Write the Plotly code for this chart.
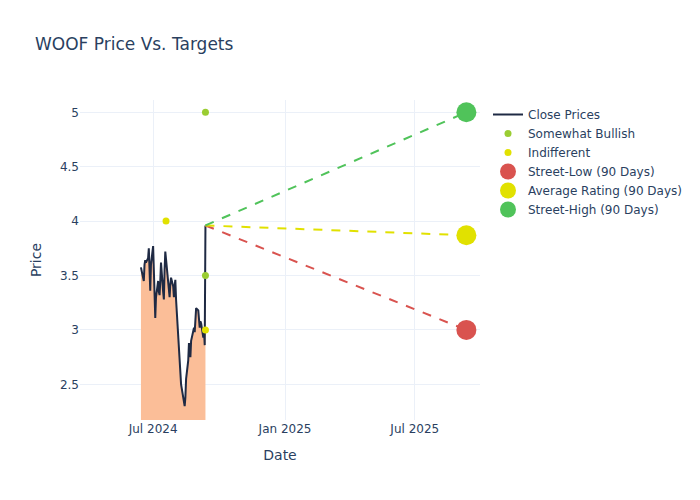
import pandas as pd
import plotly.graph_objs as go

# daily closes, Jun 14 2024 -> Sep 12 2024 (business days)
close_start = '2024-06-14'
close_prices = [3.575, 3.50, 3.45, 3.60, 3.64, 3.62, 3.66, 3.75, 3.62, 3.36,
                3.60, 3.77, 3.55, 3.34, 3.11, 3.30, 3.45, 3.35, 3.32, 3.45,
                3.62, 3.35, 3.28, 3.55, 3.72, 3.65, 3.40, 3.35, 3.30, 3.42,
                3.48, 3.40, 3.30, 3.40, 3.46, 3.28, 2.90, 2.78, 2.70, 2.62,
                2.50, 2.38, 2.31, 2.30, 2.38, 2.55, 2.72, 2.88, 2.80, 2.75,
                2.90, 3.00, 3.02, 2.98, 3.10, 3.20, 3.18, 3.12, 3.02, 3.08,
                3.06, 2.93, 3.00, 2.86, 3.96]

bullish_dates = ['2024-09-12', '2024-09-12']
bullish_targets = [5.0, 3.5]
indiff_dates = ['2024-07-19', '2024-09-12']
indiff_targets = [4.0, 3.0]

target_date = '2025-09-11'
street_low = 3.0
avg_rating = 3.87
street_high = 5.0

close_dates = pd.bdate_range(close_start, periods=len(close_prices))
last_date = close_dates[-1]
last_price = close_prices[-1]

targets = [('Street-Low (90 Days)', street_low, '#d9534f'),
           ('Average Rating (90 Days)', avg_rating, '#e1e100'),
           ('Street-High (90 Days)', street_high, '#50c35a')]

fig = go.Figure()

# shaded area under the price, kept out of the legend
fig.add_trace(go.Scatter(x=close_dates, y=close_prices, mode='lines', line=dict(width=0),
                         fill='tozeroy', fillcolor='#fbbe98', showlegend=False, hoverinfo='skip'))
fig.add_trace(go.Scatter(x=close_dates, y=close_prices, name='Close Prices', mode='lines',
                         line=dict(color='#1f2a44', width=2)))

fig.add_trace(go.Scatter(x=bullish_dates, y=bullish_targets, name='Somewhat Bullish', mode='markers',
                         marker=dict(color='#9acd32', size=7)))
fig.add_trace(go.Scatter(x=indiff_dates, y=indiff_targets, name='Indifferent', mode='markers',
                         marker=dict(color='#e1e100', size=7)))

for nm, val, col in targets:
    fig.add_trace(go.Scatter(x=[last_date, target_date], y=[last_price, val], mode='lines',
                             line=dict(color=col, dash='dash', width=2), showlegend=False,
                             hoverinfo='skip'))

for nm, val, col in targets:
    fig.add_trace(go.Scatter(x=[target_date], y=[val], name=nm, mode='markers',
                             marker=dict(color=col, size=20)))

fig.update_layout(
    template='plotly_white',
    width=700, height=500,
    font=dict(family='DejaVu Sans'),
    title=dict(text='WOOF Price Vs. Targets', x=0.05),
    xaxis_title='Date',
    yaxis_title='Price',
    margin=dict(l=80, r=220, t=100, b=80),
)
fig.update_xaxes(range=['2024-03-21', '2025-09-30'], dtick='M6', tick0='2024-07-01',
                 tickformat='%b %Y')
fig.update_yaxes(range=[2.172, 5.113])

# page has 8px body margin by default; drop it so the chart sits at 0,0
fig.write_html("out.html", config={'displayModeBar': False},
               post_script="document.body.style.margin='0';")
